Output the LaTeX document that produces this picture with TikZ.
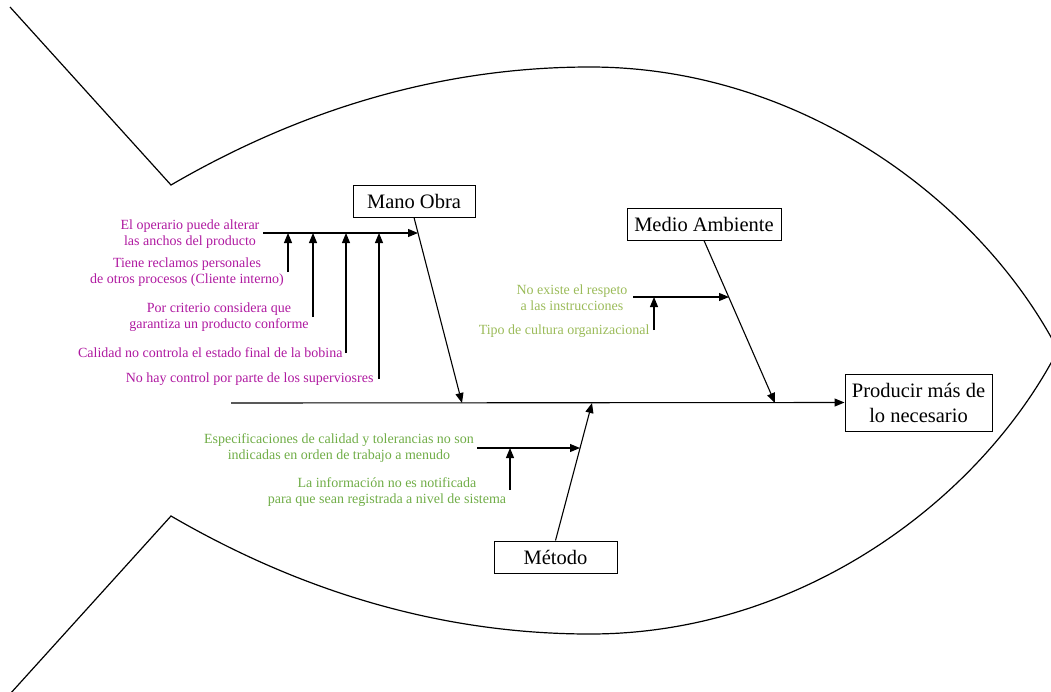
\documentclass[tikz,border=0pt]{standalone}
\usepackage{fontspec}
\setmainfont{Liberation Serif}
\usetikzlibrary{arrows.meta}
\definecolor{mocol}{RGB}{175,25,160}
\definecolor{macol}{RGB}{155,187,89}
\definecolor{mecol}{RGB}{112,173,71}

\begin{document}
\begin{tikzpicture}[x=1pt,y=-1pt,
  line width=1.1pt,
  tip/.style={-{Triangle[length=10pt,width=8pt]}},
  catbox/.style={draw, line width=1pt, inner sep=0pt,
    font=\fontsize{20.5}{25}\selectfont, align=center},
  cause/.style={inner sep=0pt, font=\fontsize{14}{16}\selectfont, align=center},
]
\useasboundingbox (0,0) rectangle (1051,691);

% fish outline: tail and body
\draw[line width=1.2pt] (10,7) -- (171,185)
  .. controls (300,110) and (440,67) .. (590,67)
  .. controls (800,67) and (980,200) .. (1058,350);
\draw[line width=1.2pt] (10,694) -- (171,516)
  .. controls (300,591) and (440,634) .. (590,634)
  .. controls (800,634) and (980,501) .. (1058,350);

% category boxes and effect
\node[catbox, minimum width=122pt, minimum height=32pt] (mano) at (414,201) {Mano Obra};
\node[catbox, minimum width=154pt, minimum height=32pt] (medio) at (704,224) {Medio Ambiente};
\node[catbox, minimum width=123pt, minimum height=32pt] (metodo) at (555.5,557) {Método};
\node[catbox, minimum width=147pt, minimum height=57pt] (efecto) at (918.5,402.5) {Producir más de\\lo necesario};

% spine
\coordinate (cola) at (231,403);
\draw[tip] (cola) -- (efecto.west);

% main bones
\coordinate (pm) at (462,403);
\coordinate (pa) at (775,403);
\coordinate (pt) at (592,403);
\draw[tip] (mano.south) -- (pm);
\draw[tip] (medio.south) -- (pa);
\draw[tip] (metodo.north) -- (pt);

% Mano Obra causes
\coordinate (m0) at (263,233);
\coordinate (m1) at (418,233);
\draw[tip] (m0) -- (m1);
\foreach \x/\b [count=\i] in {288/272, 313/317, 346/353, 379/379}{
  \coordinate (mv\i a) at (\x,\b);
  \coordinate (mv\i b) at (\x,233);
  \draw[tip] (mv\i a) -- (mv\i b);
}
\node[cause, text=mocol] (c1) at (190,234) {El operario puede alterar\\las anchos del producto};
\node[cause, text=mocol] (c2) at (187,272) {Tiene reclamos personales\\de otros procesos (Cliente interno)};
\node[cause, text=mocol] (c3) at (219,317.5) {Por criterio considera que\\garantiza un producto conforme};
\node[cause, text=mocol, anchor=base east] (c4) at (343,357) {Calidad no controla el estado final de la bobina};
\node[cause, text=mocol, anchor=base east] (c5) at (374,382) {No hay control por parte de los superviosres};

% Medio Ambiente causes
\coordinate (a0) at (633,297);
\coordinate (a1) at (729,297);
\draw[tip] (a0) -- (a1);
\coordinate (av0) at (654,330);
\coordinate (av1) at (654,297);
\draw[tip] (av0) -- (av1);
\node[cause, text=macol] (c6) at (572,297.5) {No existe el respeto\\a las instrucciones};
\node[cause, text=macol, anchor=base east] (c7) at (650,334) {Tipo de cultura organizacional};

% Método causes
\coordinate (t0) at (477,448);
\coordinate (t1) at (580,448);
\draw[tip] (t0) -- (t1);
\coordinate (tv0) at (510,490);
\coordinate (tv1) at (510,448);
\draw[tip] (tv0) -- (tv1);
\node[cause, text=mecol] (c8) at (339,448) {Especificaciones de calidad y tolerancias no son\\indicadas en orden de trabajo a menudo};
\node[cause, text=mecol] (c9) at (387,492) {La información no es notificada\\para que sean registrada a nivel de sistema};
\end{tikzpicture}
\end{document}
